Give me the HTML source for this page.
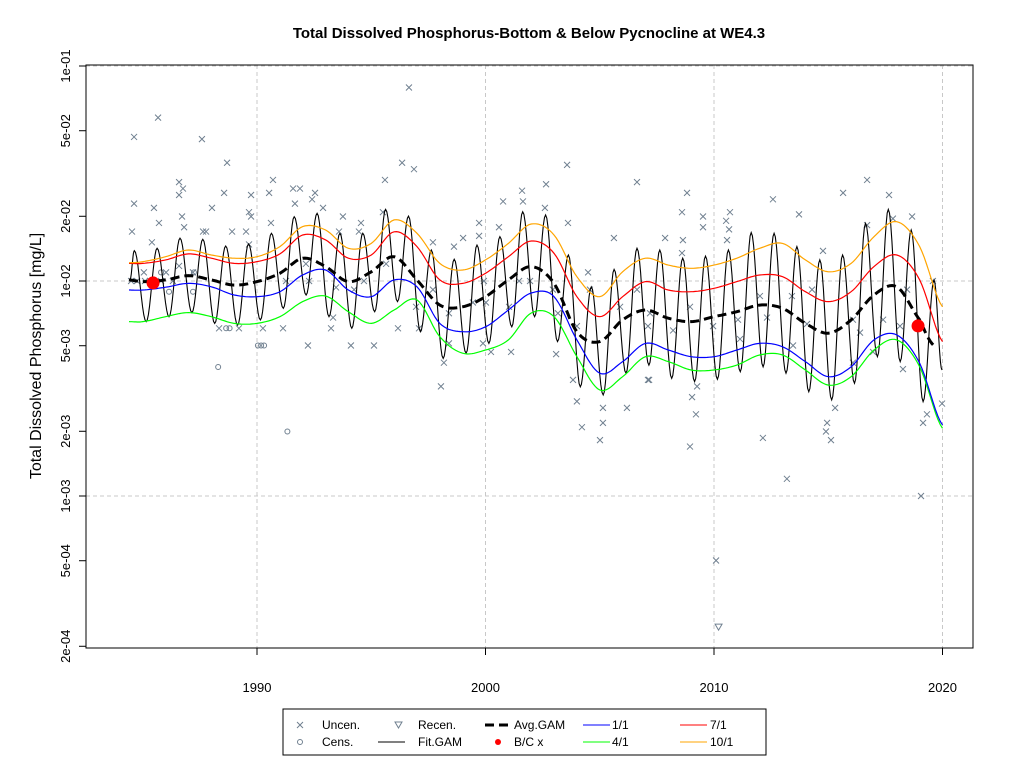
<!DOCTYPE html>
<html><head><meta charset="utf-8"><style>
body{margin:0;background:#fff;}
svg{display:block;font-family:"Liberation Sans",Arial,sans-serif;}
</style></head><body>
<svg id="chart" width="1024" height="768" viewBox="0 0 1024 768">
<text x="529" y="38" text-anchor="middle" font-size="15" font-weight="bold">Total Dissolved Phosphorus-Bottom &amp; Below Pycnocline at WE4.3</text>
<text transform="translate(41,356) rotate(-90)" text-anchor="middle" font-size="16">Total Dissolved Phosphorus [mg/L]</text>
<g id="grid"></g>
<g id="axes"></g>
<g id="points"></g>
<g id="lines"></g>
<rect x="86" y="65" width="887" height="583" fill="none" stroke="#000" stroke-width="1"/>
<g>
<rect x="283" y="709" width="483" height="46" fill="#fff" stroke="#000"/>
<g font-size="12">
<g><path d="M297 722l6 6M303 722l-6 6" stroke="#708090"/><text x="322" y="729">Uncen.</text></g>
<g><circle cx="300" cy="742" r="2.5" fill="none" stroke="#708090"/><text x="322" y="746">Cens.</text></g>
<g><path d="M395 722h7l-3.5 6z" fill="none" stroke="#708090"/><text x="418" y="729">Recen.</text></g>
<g><line x1="378" y1="742" x2="405" y2="742" stroke="#000"/><text x="418" y="746">Fit.GAM</text></g>
<g><line x1="485" y1="725" x2="512" y2="725" stroke="#000" stroke-width="3" stroke-dasharray="9,5"/><text x="514" y="729">Avg.GAM</text></g>
<g><circle cx="498" cy="742" r="3" fill="#f00"/><text x="514" y="746">B/C x</text></g>
<g><line x1="583" y1="725" x2="610" y2="725" stroke="#00f"/><text x="612" y="729">1/1</text></g>
<g><line x1="583" y1="742" x2="610" y2="742" stroke="#0f0"/><text x="612" y="746">4/1</text></g>
<g><line x1="680" y1="725" x2="707" y2="725" stroke="#f00"/><text x="710" y="729">7/1</text></g>
<g><line x1="680" y1="742" x2="707" y2="742" stroke="#ffa500"/><text x="710" y="746">10/1</text></g>
</g></g>
</svg>
<script>
// all values are log10(mg/L)
const knotYears=[1984.4,1985,1986,1987,1988,1989,1990,1991,1992,1993,1994,1995,1996,1997,1998,1999,2000,2001,2002,2003,2004,2005,2006,2007,2008,2009,2010,2011,2012,2013,2014,2015,2016,2017,2018,2019,2020];
const avgYears=[1984.4,1985,1986,1987,1988,1989,1990,1991,1992,1993,1994,1995,1996,1997,1998,1999,2000,2001,2002,2003,2004,2005,2006,2007,2008,2009,2010,2011,2012,2013,2014,2015,2016,2017,2018,2019,2019.6];
const avgGam=[-1.995,-2.003,-1.995,-1.975,-1.995,-2.019,-2.003,-1.964,-1.894,-1.933,-2.003,-1.957,-1.887,-1.995,-2.112,-2.120,-2.073,-1.995,-1.933,-2.011,-2.236,-2.282,-2.181,-2.135,-2.173,-2.189,-2.166,-2.143,-2.112,-2.127,-2.197,-2.243,-2.181,-2.065,-2.027,-2.181,-2.298];
const jan1=[-2.042,-2.042,-2.029,-2.011,-2.027,-2.065,-2.073,-2.050,-1.972,-1.949,-2.042,-2.073,-1.995,-2.027,-2.197,-2.236,-2.213,-2.135,-2.056,-2.073,-2.274,-2.429,-2.375,-2.290,-2.321,-2.352,-2.352,-2.321,-2.290,-2.306,-2.375,-2.445,-2.399,-2.274,-2.251,-2.383,-2.670];
const apr1=[-2.189,-2.189,-2.166,-2.147,-2.166,-2.197,-2.197,-2.166,-2.096,-2.070,-2.143,-2.197,-2.135,-2.088,-2.259,-2.336,-2.321,-2.274,-2.149,-2.166,-2.352,-2.507,-2.445,-2.352,-2.375,-2.414,-2.414,-2.391,-2.344,-2.344,-2.414,-2.484,-2.445,-2.321,-2.274,-2.399,-2.685];
const jul1=[-1.918,-1.918,-1.902,-1.874,-1.894,-1.918,-1.910,-1.874,-1.786,-1.809,-1.894,-1.879,-1.771,-1.840,-1.995,-2.011,-1.964,-1.887,-1.814,-1.871,-2.073,-2.166,-2.073,-2.003,-2.042,-2.050,-2.034,-2.003,-1.972,-1.980,-2.050,-2.096,-2.050,-1.933,-1.879,-1.995,-2.282];
const oct1=[-1.915,-1.910,-1.887,-1.856,-1.879,-1.894,-1.887,-1.840,-1.747,-1.763,-1.848,-1.825,-1.716,-1.778,-1.918,-1.949,-1.902,-1.825,-1.735,-1.786,-1.980,-2.073,-1.957,-1.894,-1.926,-1.941,-1.926,-1.894,-1.848,-1.825,-1.902,-1.957,-1.918,-1.794,-1.724,-1.840,-2.120];
const fitPeak=[-1.859,-1.848,-1.801,-1.806,-1.837,-1.828,-1.778,-1.701,-1.685,-1.778,-1.778,-1.667,-1.698,-1.856,-1.899,-1.833,-1.794,-1.678,-1.693,-1.879,-2.027,-1.946,-1.848,-1.856,-1.894,-1.884,-1.856,-1.775,-1.778,-1.840,-1.902,-1.879,-1.732,-1.667,-1.763,-1.995];
const fitTrough=[-2.189,-2.166,-2.147,-2.197,-2.205,-2.181,-2.127,-2.065,-2.166,-2.220,-2.143,-2.096,-2.236,-2.360,-2.336,-2.290,-2.213,-2.166,-2.282,-2.492,-2.530,-2.429,-2.391,-2.453,-2.468,-2.457,-2.422,-2.399,-2.429,-2.515,-2.553,-2.476,-2.352,-2.375,-2.561];
const fitStart=[1984.44,-1.995];
const fitEnd=[2019.98,-2.414];
const uncen=[[1984.62,-1.33],[1985.67,-1.24],[1987.59,-1.34],[1988.69,-1.45],[1984.62,-1.64],[1985.49,-1.66],[1985.71,-1.73],[1984.53,-1.77],[1985.40,-1.82],[1986.59,-1.54],[1986.76,-1.57],[1986.59,-1.60],[1986.72,-1.70],[1986.81,-1.75],[1988.03,-1.66],[1988.56,-1.59],[1987.64,-1.77],[1987.77,-1.77],[1988.91,-1.77],[1989.74,-1.60],[1989.65,-1.68],[1989.74,-1.70],[1989.52,-1.77],[1990.70,-1.53],[1990.53,-1.59],[1990.61,-1.73],[1991.58,-1.57],[1991.88,-1.57],[1991.66,-1.64],[1992.54,-1.59],[1992.41,-1.62],[1992.89,-1.66],[1993.76,-1.70],[1994.55,-1.73],[1993.59,-1.77],[1994.46,-1.77],[1995.60,-1.53],[1996.35,-1.45],[1996.87,-1.48],[1996.65,-1.10],[1997.70,-1.82],[1998.62,-1.84],[1999.02,-1.80],[1999.72,-1.73],[1999.72,-1.79],[2000.77,-1.63],[2001.60,-1.58],[2001.64,-1.63],[2000.59,-1.75],[1995.51,-1.68],[2003.57,-1.46],[2002.65,-1.55],[2002.60,-1.66],[2003.61,-1.73],[2005.62,-1.80],[2006.63,-1.54],[2008.82,-1.59],[2008.60,-1.68],[2007.86,-1.80],[2008.64,-1.81],[2009.52,-1.70],[2009.52,-1.75],[2010.70,-1.68],[2010.53,-1.72],[2010.66,-1.76],[2010.57,-1.81],[2012.58,-1.62],[2013.72,-1.69],[2014.77,-1.86],[2015.65,-1.59],[2016.70,-1.53],[2017.66,-1.60],[2018.67,-1.70],[2016.70,-1.74],[2017.83,-1.71],[2008.60,-1.87],
[1998.05,-2.49],[1998.18,-2.38],[1998.40,-2.29],[2000.24,-2.33],[2001.12,-2.33],[1999.89,-2.29],[1988.34,-2.22],[1989.21,-2.22],[1990.26,-2.22],[1991.14,-2.22],[1993.24,-2.22],[1996.17,-2.22],[1997.09,-2.22],[1992.23,-2.30],[1994.11,-2.30],[1995.12,-2.30],[2004.00,-2.56],[2004.22,-2.68],[2005.01,-2.74],[2005.14,-2.66],[2005.14,-2.59],[2006.19,-2.59],[2007.16,-2.46],[2009.04,-2.54],[2009.21,-2.62],[2008.95,-2.77],[2009.26,-2.49],[2012.14,-2.73],[2014.95,-2.66],[2014.90,-2.70],[2015.12,-2.74],[2015.30,-2.59],[2018.27,-2.41],[2019.15,-2.66],[2019.32,-2.62],[2019.98,-2.57],[2003.09,-2.34],[2003.83,-2.46],[2007.11,-2.46],[2013.19,-2.92],[2019.06,-3.00],[2010.09,-3.30],
[1985.05,-1.96],[1986.02,-1.96],[1986.59,-1.93],[1987.20,-1.96],[1985.80,-2.00],[1986.32,-2.00],[1989.65,-1.83],[1991.27,-2.00],[1992.14,-1.92],[1992.28,-2.00],[1993.46,-2.03],[1993.33,-2.17],[1994.25,-2.04],[1994.68,-2.00],[1995.65,-1.92],[1996.96,-2.12],[1997.70,-2.04],[1998.40,-2.15],[1999.45,-2.10],[1999.93,-2.00],[2000.02,-2.10],[2001.03,-2.12],[2001.47,-2.00],[2001.95,-2.00],[2002.95,-2.04],[2003.17,-2.15],[2004.49,-1.96],[2004.57,-2.04],[2004.00,-2.21],[2005.89,-2.12],[2006.63,-2.04],[2007.11,-2.21],[2007.20,-2.15],[2008.21,-2.23],[2008.95,-2.12],[2009.96,-2.21],[2011.05,-2.18],[2011.14,-2.27],[2012.01,-2.07],[2012.32,-2.17],[2013.41,-2.07],[2014.07,-2.20],[2013.46,-2.30],[2014.29,-2.04],[2016.08,-2.18],[2016.39,-2.24],[2017.40,-2.18],[2018.14,-2.21],[2018.45,-2.04],[2019.58,-2.00],[2016.08,-2.38],[2016.96,-2.33],[1984.49,-2.00],[1984.75,-2.00],[1985.10,-2.00],[1985.32,-2.00]];
const cens=[[1988.65,-2.22],[1988.80,-2.22],[1990.04,-2.30],[1990.18,-2.30],[1990.31,-2.30],[1988.30,-2.40],[1991.33,-2.70],[1985.80,-1.96],[1987.24,-1.96],[1986.15,-2.05],[1987.20,-2.05]];
const recen=[[2010.2,-3.61]];
const bcPoints=[[1985.45,-2.009],[2018.93,-2.209]];
const yTickLabels=["1e-01","5e-02","2e-02","1e-02","5e-03","2e-03","1e-03","5e-04","2e-04"];
const yTickVals=[0.1,0.05,0.02,0.01,0.005,0.002,0.001,0.0005,0.0002];
const xTickLabels=["1990","2000","2010","2020"];

const NS="http://www.w3.org/2000/svg";
const X=yr=>257+(yr-1990)*22.85;
const Y=lg=>281-(lg+2)*215;
function mk(tag,attrs,parent){const e=document.createElementNS(NS,tag);for(const k in attrs)e.setAttribute(k,attrs[k]);parent.appendChild(e);return e;}
const grid=document.getElementById('grid'),axes=document.getElementById('axes'),pts=document.getElementById('points'),lines=document.getElementById('lines');

[-1,-2,-3].forEach(lg=>{const g=mk('line',{x1:86,x2:973,y1:Y(lg),y2:Y(lg),stroke:'#c8c8c8','stroke-dasharray':'4,3'},grid);

});
xTickLabels.forEach(l=>{const x=X(+l);const g=mk('line',{x1:x,x2:x,y1:65,y2:648,stroke:'#c8c8c8','stroke-dasharray':'4,3'},grid);


const t=mk('line',{x1:x,x2:x,y1:648,y2:655,stroke:'#000'},axes);


const tx=mk('text',{x:x,y:692,'text-anchor':'middle','font-size':'13'},axes);tx.textContent=l;

});
yTickVals.forEach((v,i)=>{const y=Y(Math.log10(v));const t=mk('line',{x1:79,x2:86,y1:y,y2:y,stroke:'#000'},axes);


const tx=mk('text',{transform:`translate(70,${y}) rotate(-90)`,'text-anchor':'middle','font-size':'13'},axes);tx.textContent=yTickLabels[i];

});

uncen.forEach(p=>{const x=X(p[0]),y=Y(p[1]);const e=mk('path',{d:`M${x-3} ${y-3}l6 6M${x+3} ${y-3}l-6 6`,stroke:'#708090','stroke-width':1},pts);

});
cens.forEach(p=>{const e=mk('circle',{cx:X(p[0]),cy:Y(p[1]),r:2.5,fill:'none',stroke:'#708090'},pts);

});
recen.forEach(p=>{const x=X(p[0]),y=Y(p[1]);const e=mk('path',{d:`M${x-3.5} ${y-3}h7l-3.5 6z`,fill:'none',stroke:'#708090'},pts);

});

function spline(xs,ys){let d='';const n=xs.length;
for(let i=0;i<n-1;i++){const x0=xs[Math.max(i-1,0)],y0=ys[Math.max(i-1,0)],x1=xs[i],y1=ys[i],x2=xs[i+1],y2=ys[i+1],x3=xs[Math.min(i+2,n-1)],y3=ys[Math.min(i+2,n-1)];
for(let s=0;s<=1;s+=0.1){const s2=s*s,s3=s2*s;
const yy=0.5*((2*y1)+(-y0+y2)*s+(2*y0-5*y1+4*y2-y3)*s2+(-y0+3*y1-3*y2+y3)*s3);
const xx=x1+(x2-x1)*s;
d+=(d?'L':'M')+X(xx).toFixed(1)+' '+Y(yy).toFixed(1);}}
return d;}
function drawSmooth(xs,ys,color,w,dash,name){const e=mk('path',{d:spline(xs,ys),fill:'none',stroke:color,'stroke-width':w},lines);if(dash)e.setAttribute('stroke-dasharray',dash);

}

// fit GAM
const ext=[fitStart];
for(let i=0;i<fitPeak.length;i++){ext.push([1984.63+i,fitPeak[i]]);if(i<fitTrough.length)ext.push([1985.15+i,fitTrough[i]]);}
ext.push(fitEnd);
let fd='';
for(let i=0;i<ext.length-1;i++){const a=ext[i],b=ext[i+1];for(let s=0;s<=1;s+=0.1){const v=a[1]+(b[1]-a[1])*(1-Math.cos(Math.PI*s))/2;const t=a[0]+(b[0]-a[0])*s;fd+=(fd?'L':'M')+X(t).toFixed(1)+' '+Y(v).toFixed(1);}}
const fit=mk('path',{d:fd,fill:'none',stroke:'#000','stroke-width':1.1},lines);



drawSmooth(knotYears,apr1,'#00ff00',1.2,null,'apr1-line');
drawSmooth(knotYears,jan1,'#0000ff',1.2,null,'jan1-line');
drawSmooth(knotYears,jul1,'#ff0000',1.2,null,'jul1-line');
drawSmooth(knotYears,oct1,'#ffa500',1.2,null,'oct1-line');
drawSmooth(avgYears,avgGam,'#000',3,'9,5','avg-gam-line');

bcPoints.forEach(p=>{const e=mk('circle',{cx:X(p[0]),cy:Y(p[1]),r:6.5,fill:'#f00'},lines);

});
</script>
</body></html>
